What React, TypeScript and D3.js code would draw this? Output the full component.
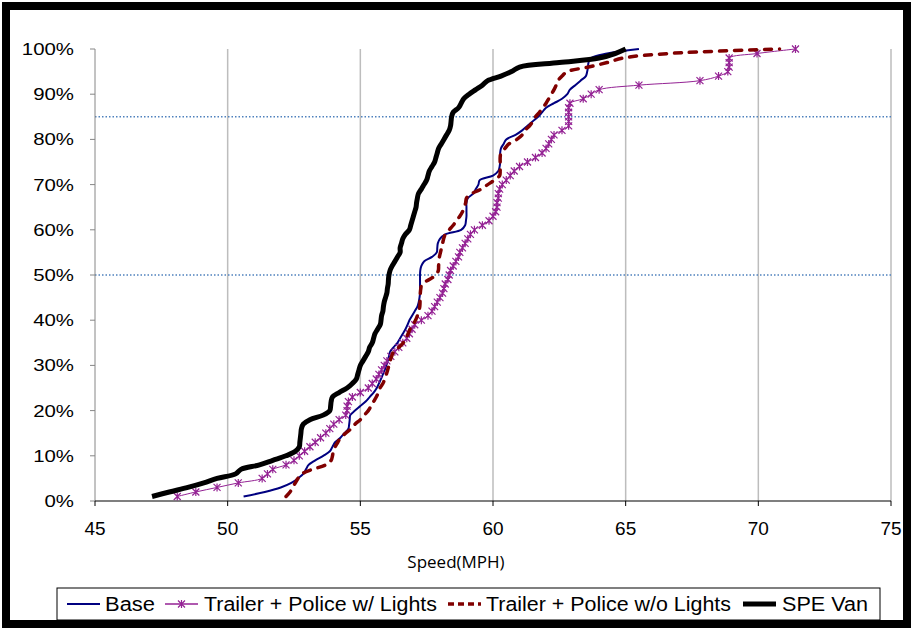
import React from "react";
import * as d3 from "d3";

// cumulative share of vehicles (%), shared by every series
const PCT = [
  1, 2, 3, 4, 5, 6, 7, 8, 9, 10, 11, 12, 13, 14, 15, 16, 17, 18, 19, 20,
  21, 22, 23, 24, 25, 26, 27, 28, 29, 30, 31, 32, 33, 34, 35, 36, 37, 38, 39, 40,
  41, 42, 43, 44, 45, 46, 47, 48, 49, 50, 51, 52, 53, 54, 55, 56, 57, 58, 59, 60,
  61, 62, 63, 64, 65, 66, 67, 68, 69, 70, 71, 72, 73, 74, 75, 76, 77, 78, 79, 80,
  81, 82, 83, 84, 85, 86, 87, 88, 89, 90, 91, 92, 93, 94, 95, 96, 97, 98, 99, 100,
];

const base = [
  50.6, 51.4, 52.0, 52.4, 52.65, 52.85, 52.95, 53.05, 53.3, 53.6,
  53.85, 53.95, 54.05, 54.25, 54.4, 54.55, 54.58, 54.6, 54.62, 54.8,
  55.0, 55.2, 55.35, 55.5, 55.62, 55.7, 55.78, 55.85, 55.92, 55.98,
  56.03, 56.08, 56.12, 56.25, 56.4, 56.5, 56.6, 56.7, 56.78, 56.85,
  56.95, 57.05, 57.15, 57.2, 57.23, 57.25, 57.25, 57.25, 57.25, 57.25,
  57.26, 57.3, 57.4, 57.7, 57.88, 57.9, 57.92, 58.0, 58.2, 58.8,
  58.95, 58.98, 59.0, 59.0, 59.0, 59.0, 59.05, 59.25, 59.35, 59.45,
  59.5, 60.0, 60.2, 60.25, 60.27, 60.27, 60.27, 60.3, 60.4, 60.5,
  60.85, 61.1, 61.3, 61.5, 61.7, 61.85, 62.0, 62.3, 62.6, 62.8,
  62.9, 63.1, 63.3, 63.5, 63.55, 63.58, 63.6, 63.7, 64.3, 65.5,
];

const withLights = [
  48.1, 48.8, 49.6, 50.4, 51.3, 51.5, 51.7, 52.2, 52.5, 52.7,
  52.9, 53.1, 53.3, 53.5, 53.7, 53.85, 54.0, 54.2, 54.45, 54.5,
  54.5, 54.55, 54.7, 55.0, 55.3, 55.45, 55.6, 55.7, 55.8, 55.9,
  56.0, 56.15, 56.3, 56.45, 56.6, 56.75, 56.85, 56.95, 57.05, 57.3,
  57.55, 57.7, 57.8, 57.9, 58.0, 58.1, 58.15, 58.2, 58.3, 58.35,
  58.4, 58.5, 58.6, 58.7, 58.75, 58.85, 58.95, 59.05, 59.15, 59.3,
  59.6, 59.85, 60.0, 60.1, 60.15, 60.15, 60.2, 60.2, 60.25, 60.35,
  60.5, 60.65, 60.8, 61.0, 61.3, 61.6, 61.85, 62.0, 62.1, 62.2,
  62.3, 62.6, 62.85, 62.85, 62.85, 62.85, 62.85, 62.9, 63.4, 63.7,
  64.0, 65.5, 67.8, 68.5, 68.85, 68.9, 68.9, 68.9, 69.95, 71.4,
];

const withoutLights = [
  52.2, 52.35, 52.45, 52.55, 52.65, 52.8, 53.2, 53.7, 53.9, 53.95,
  53.98, 54.05, 54.15, 54.25, 54.45, 54.65, 54.8, 55.0, 55.15, 55.3,
  55.4, 55.5, 55.6, 55.68, 55.74, 55.85, 55.92, 55.98, 56.03, 56.08,
  56.12, 56.18, 56.25, 56.45, 56.62, 56.72, 56.8, 56.87, 56.98, 57.08,
  57.15, 57.2, 57.24, 57.25, 57.25, 57.26, 57.28, 57.32, 57.6, 57.85,
  57.94, 57.95, 57.96, 57.98, 58.02, 58.06, 58.1, 58.14, 58.2, 58.35,
  58.5, 58.62, 58.75, 58.85, 58.92, 58.97, 59.0, 59.2, 59.55, 59.8,
  60.05, 60.25, 60.27, 60.27, 60.27, 60.27, 60.3, 60.45, 60.6, 60.9,
  61.1, 61.2, 61.38, 61.5, 61.6, 61.75, 61.88, 62.0, 62.1, 62.2,
  62.3, 62.38, 62.45, 62.6, 62.8, 63.6, 64.3, 64.9, 66.6, 70.8,
];

const speVan = [
  47.15, 47.8, 48.5, 49.1, 49.6, 50.3, 50.5, 51.2, 51.7, 52.2,
  52.55, 52.7, 52.72, 52.74, 52.76, 52.78, 52.85, 53.1, 53.6, 53.85,
  53.88, 53.9, 53.95, 54.2, 54.5, 54.7, 54.85, 54.9, 54.95, 55.0,
  55.1, 55.2, 55.3, 55.35, 55.45, 55.5, 55.55, 55.65, 55.75, 55.78,
  55.8, 55.85, 55.87, 55.9, 55.95, 56.0, 56.02, 56.05, 56.06, 56.08,
  56.12, 56.2, 56.3, 56.4, 56.5, 56.5, 56.55, 56.6, 56.7, 56.85,
  56.9, 56.95, 57.0, 57.05, 57.1, 57.12, 57.15, 57.19, 57.3, 57.4,
  57.5, 57.55, 57.6, 57.7, 57.8, 57.85, 57.9, 57.95, 58.05, 58.15,
  58.25, 58.35, 58.4, 58.42, 58.44, 58.5, 58.7, 58.8, 58.9, 59.1,
  59.35, 59.6, 59.8, 60.3, 60.7, 61.0, 62.5, 64.0, 64.6, 65.0,
];

const X_TICKS = [45, 50, 55, 60, 65, 70, 75];
const Y_TICKS = [0, 10, 20, 30, 40, 50, 60, 70, 80, 90, 100];
const REF_LINES = [50, 85];

const SERIES = [
  { name: "Base", values: base, color: "#000080", width: 2, dash: null, marker: false },
  { name: "Trailer + Police w/ Lights", values: withLights, color: "#942294", width: 1, dash: null, marker: true },
  { name: "Trailer + Police w/o Lights", values: withoutLights, color: "#800000", width: 3.5, dash: "7 8", marker: false },
  { name: "SPE Van", values: speVan, color: "#000000", width: 5, dash: null, marker: false },
];

const W = 913;
const H = 630;
const left = 95;
const right = 891;
const top = 49;
const bottom = 501;

const star = "M-3.5,-3.5L3.5,3.5M-3.5,3.5L3.5,-3.5M0,-4L0,4";

export default function App() {
  const x = d3.scaleLinear().domain([45, 75]).range([left, right]);
  const y = d3.scaleLinear().domain([0, 100]).range([bottom, top]);

  const line = d3
    .line<[number, number]>()
    .x((d) => x(d[0]))
    .y((d) => y(d[1]))
    .curve(d3.curveCatmullRom.alpha(0.5));

  // legend layout: line sample start, text start, text width
  const legendItems = [
    { lx: 67, tx: 105, tw: 50 },
    { lx: 165, tx: 204, tw: 233 },
    { lx: 448, tx: 486, tw: 245 },
    { lx: 743, tx: 782, tw: 86 },
  ];

  return (
    <svg
      width={W}
      height={H}
      style={{ position: "absolute", left: 0, top: 0, background: "#fff" }}
      fontFamily="'Liberation Sans', Arial, sans-serif"
    >
      <rect x={0} y={0} width={W} height={H} fill="#fff" />

      {/* vertical grid */}
      {X_TICKS.slice(1).map((t) => (
        <line key={t} x1={x(t)} x2={x(t)} y1={top} y2={bottom} stroke="#bdbdbd" strokeWidth={1.5} />
      ))}

      {/* reference percentiles */}
      {REF_LINES.map((r) => (
        <line
          key={r}
          x1={left}
          x2={right + 2}
          y1={y(r)}
          y2={y(r)}
          stroke="#4f81bd"
          strokeWidth={1.5}
          strokeDasharray="1.5 2"
        />
      ))}

      {/* y axis */}
      <line x1={left} x2={left} y1={top} y2={bottom} stroke="#868686" strokeWidth={1} />
      {Y_TICKS.map((t) => (
        <g key={t}>
          <line x1={left - 5} x2={left} y1={y(t)} y2={y(t)} stroke="#868686" />
          <text
            transform={`translate(74,${y(t) + 6}) scale(1.2,1)`}
            textAnchor="end"
            fontSize={17}
            fill="#000"
          >
            {t}%
          </text>
        </g>
      ))}

      {/* x axis */}
      <line x1={left} x2={right} y1={bottom} y2={bottom} stroke="#000" strokeWidth={1.2} />
      {X_TICKS.map((t) => (
        <g key={t}>
          <line x1={x(t)} x2={x(t)} y1={bottom} y2={bottom + 5} stroke="#000" />
          <text x={x(t)} y={bottom + 34} textAnchor="middle" fontSize={19} fill="#000">
            {t}
          </text>
        </g>
      ))}
      <text x={456} y={568} textAnchor="middle" fontSize={17} fontFamily="'Open Sans', sans-serif">
        Speed(MPH)
      </text>

      {/* series */}
      {SERIES.map((s) => {
        const pts: [number, number][] = s.values.map((v, i) => [v, PCT[i]]);
        return (
          <g key={s.name}>
            <path
              d={line(pts) || ""}
              fill="none"
              stroke={s.color}
              strokeWidth={s.width}
              strokeDasharray={s.dash || undefined}
              strokeLinecap={s.dash ? "round" : "butt"}
              strokeLinejoin="round"
            />
            {s.marker &&
              pts.map((p, i) => (
                <path
                  key={i}
                  d={star}
                  transform={`translate(${x(p[0])},${y(p[1])})`}
                  stroke={s.color}
                  strokeWidth={1.2}
                  fill="none"
                />
              ))}
          </g>
        );
      })}

      {/* legend */}
      <rect x={57} y={588} width={823} height={32} fill="#fff" stroke="#000" strokeWidth={1} />
      {SERIES.map((s, i) => {
        const it = legendItems[i];
        return (
          <g key={s.name}>
            <line
              x1={it.lx}
              x2={it.lx + 33}
              y1={604}
              y2={604}
              stroke={s.color}
              strokeWidth={s.name === "Trailer + Police w/ Lights" ? 1.5 : s.width}
              strokeDasharray={s.dash ? "6 4" : undefined}
            />
            {s.marker && (
              <path d={star} transform={`translate(${it.lx + 16.5},604)`} stroke={s.color} strokeWidth={1.2} />
            )}
            <text
              x={it.tx}
              y={611}
              fontSize={20}
              fill="#000"
              textLength={it.tw}
              lengthAdjust="spacingAndGlyphs"
            >
              {s.name}
            </text>
          </g>
        );
      })}

      {/* outer frame */}
      <rect x={6} y={6} width={W - 12} height={H - 12} fill="none" stroke="#000" strokeWidth={8} />
    </svg>
  );
}
